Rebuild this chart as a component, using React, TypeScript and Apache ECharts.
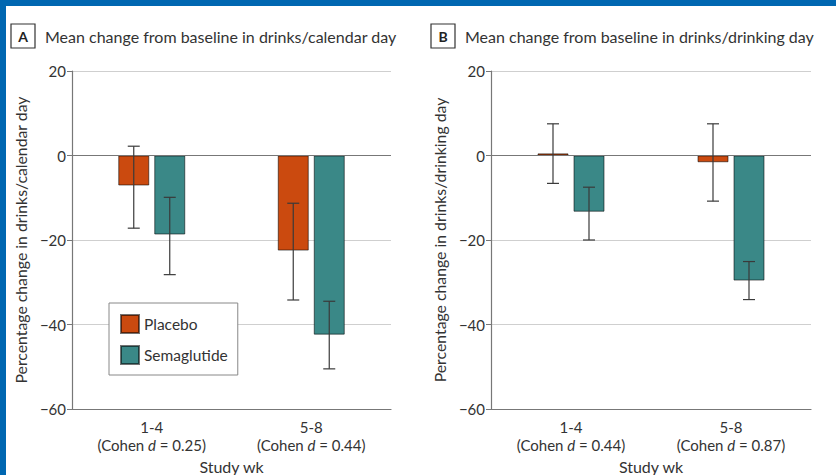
import React, { useEffect, useRef } from "react";
import * as echarts from "echarts";

const categoriesA = ["1-4", "5-8"];
const cohenA = ["0.25", "0.44"];
const categoriesB = ["1-4", "5-8"];
const cohenB = ["0.44", "0.87"];

const placeboA = [-7.1, -22.5];
const placeboA_low = [-17.2, -34.2];
const placeboA_high = [2.2, -11.3];
const semaA = [-18.7, -42.4];
const semaA_low = [-28.2, -50.5];
const semaA_high = [-9.9, -34.5];

const placeboB = [0.5, -1.6];
const placeboB_low = [-6.6, -10.8];
const placeboB_high = [7.5, 7.5];
const semaB = [-13.3, -29.6];
const semaB_low = [-20.0, -34.1];
const semaB_high = [-7.5, -25.1];

const yTicks = { min: -60, max: 20, interval: 20 };

const FONT = "Lato, 'Liberation Sans', sans-serif";
const ORANGE = "#CB4A0F";
const TEAL = "#3A8887";
const BAR_W = 31;
const BAR_GAP = 5;
const OFFSET = (BAR_W + BAR_GAP) / 2;

function errorSeries(name: string, xIdx: number, low: number[], high: number[], sign: number) {
  return {
    type: "custom",
    name: name + "-err",
    xAxisIndex: xIdx,
    yAxisIndex: xIdx,
    silent: true,
    z: 5,
    encode: { x: 0, y: [1, 2] },
    data: low.map((l, i) => [i, l, high[i]]),
    renderItem: (params: any, api: any) => {
      const x = api.value(0);
      const p1 = api.coord([x, api.value(1)]);
      const p2 = api.coord([x, api.value(2)]);
      const cx = p1[0] + sign * OFFSET;
      const cap = 6;
      const style = { stroke: "#3a3a3a", lineWidth: 1.2 };
      return {
        type: "group",
        children: [
          { type: "line", shape: { x1: cx, y1: p1[1], x2: cx, y2: p2[1] }, style },
          { type: "line", shape: { x1: cx - cap, y1: p1[1], x2: cx + cap, y2: p1[1] }, style },
          { type: "line", shape: { x1: cx - cap, y1: p2[1], x2: cx + cap, y2: p2[1] }, style },
        ],
      };
    },
  };
}

function xLabel(cats: string[], cohen: string[]) {
  return (value: string) => {
    const i = cats.indexOf(value);
    return `{a|${value}}\n{b|(Cohen }{i|d}{b| = ${cohen[i]})}`;
  };
}

const rich = {
  a: { fontSize: 15, fontFamily: FONT, color: "#333", lineHeight: 18 },
  b: { fontSize: 15, fontFamily: FONT, color: "#333", lineHeight: 18 },
  i: { fontSize: 15, fontFamily: FONT, color: "#333", fontStyle: "italic", lineHeight: 18 },
};

function xAxis(idx: number, cats: string[], cohen: string[]) {
  return {
    type: "category",
    gridIndex: idx,
    data: cats,
    boundaryGap: true,
    axisLine: { onZero: false, lineStyle: { color: "#777", width: 1.2 } },
    axisTick: { alignWithLabel: true, length: 5, lineStyle: { color: "#777" } },
    axisLabel: { formatter: xLabel(cats, cohen), rich, margin: 9, interval: 0 },
    name: "Study wk",
    nameLocation: "middle",
    nameGap: 49,
    nameMoveOverlap: false,
    nameTextStyle: { fontSize: 16, fontFamily: FONT, color: "#333" },
  };
}

function yAxis(idx: number, name: string) {
  return {
    type: "value",
    gridIndex: idx,
    ...yTicks,
    axisLine: { show: true, lineStyle: { color: "#777", width: 1.2 } },
    axisTick: { show: true, length: 5, lineStyle: { color: "#777" } },
    splitLine: { lineStyle: { color: "#cfcfcf", width: 1.2 } },
    axisLabel: {
      fontSize: 15,
      fontFamily: FONT,
      color: "#333",
      margin: 6,
      formatter: (v: number) => String(v).replace("-", "\u2212"),
    },
    name,
    nameLocation: "middle",
    nameRotate: 90,
    nameGap: 44,
    nameMoveOverlap: false,
    nameTextStyle: { fontSize: 15.8, fontFamily: FONT, color: "#333" },
  };
}

function barSeries(name: string, idx: number, data: number[], color: string, withZero: boolean) {
  const s: any = {
    type: "bar",
    name,
    xAxisIndex: idx,
    yAxisIndex: idx,
    data,
    barWidth: BAR_W,
    barGap: `${(BAR_GAP / BAR_W) * 100}%`,
    itemStyle: { color, borderColor: "rgba(0,0,0,0.55)", borderWidth: 1 },
    z: 3,
  };
  if (withZero) {
    s.markLine = {
      silent: true,
      symbol: "none",
      label: { show: false },
      lineStyle: { color: "#777", type: "solid", width: 1.2 },
      data: [{ yAxis: 0 }],
    };
  }
  return s;
}

function panelTitle(letter: string, text: string, x: number) {
  return [
    { type: "rect", shape: { x, y: 24, width: 24, height: 24 }, style: { fill: "#fff", stroke: "#333", lineWidth: 1.2 } },
    {
      type: "text",
      x: x + 12,
      y: 36,
      style: { text: letter, fontSize: 14, fontWeight: "bold", fontFamily: FONT, fill: "#222", align: "center", verticalAlign: "middle" },
    },
    {
      type: "text",
      x: x + 34,
      y: 36,
      style: { text, fontSize: 16, fontFamily: FONT, fill: "#333", align: "left", verticalAlign: "middle" },
    },
  ];
}

export default function App() {
  const ref = useRef<HTMLDivElement>(null);
  useEffect(() => {
    document.body.style.margin = "0";
    const chart = echarts.init(ref.current!, null, { renderer: "svg" });
    chart.setOption({
      animation: false,
      backgroundColor: "#fff",
      grid: [
        { left: 72, top: 71, width: 319, height: 338, containLabel: false, outerBoundsMode: "none" },
        { left: 491, top: 71, width: 320, height: 338, containLabel: false, outerBoundsMode: "none" },
      ],
      xAxis: [xAxis(0, categoriesA, cohenA), xAxis(1, categoriesB, cohenB)],
      yAxis: [
        yAxis(0, "Percentage change in drinks/calendar day"),
        yAxis(1, "Percentage change in drinks/drinking day"),
      ],
      legend: {
        left: 109,
        top: 303,
        orient: "vertical",
        data: ["Placebo", "Semaglutide"],
        itemWidth: 18,
        itemHeight: 18,
        itemGap: 11,
        padding: [11, 10, 10, 11],
        borderColor: "#888",
        borderWidth: 1,
        backgroundColor: "#fff",
        textStyle: { fontSize: 15.5, fontFamily: FONT, color: "#333" },
        icon: "rect",
      },
      series: [
        barSeries("Placebo", 0, placeboA, ORANGE, true),
        barSeries("Semaglutide", 0, semaA, TEAL, false),
        barSeries("Placebo", 1, placeboB, ORANGE, true),
        barSeries("Semaglutide", 1, semaB, TEAL, false),
        errorSeries("PlaceboA", 0, placeboA_low, placeboA_high, -1),
        errorSeries("SemaA", 0, semaA_low, semaA_high, 1),
        errorSeries("PlaceboB", 1, placeboB_low, placeboB_high, -1),
        errorSeries("SemaB", 1, semaB_low, semaB_high, 1),
      ],
      graphic: [
        { type: "rect", shape: { x: 0, y: 0, width: 836, height: 6 }, style: { fill: "#0067B1" } },
        { type: "rect", shape: { x: 0, y: 0, width: 6, height: 475 }, style: { fill: "#0067B1" } },
        ...panelTitle("A", "Mean change from baseline in drinks/calendar day", 11),
        ...panelTitle("B", "Mean change from baseline in drinks/drinking day", 431),
      ],
    });
    return () => chart.dispose();
  }, []);
  return <div ref={ref} style={{ width: 836, height: 475 }} />;
}
